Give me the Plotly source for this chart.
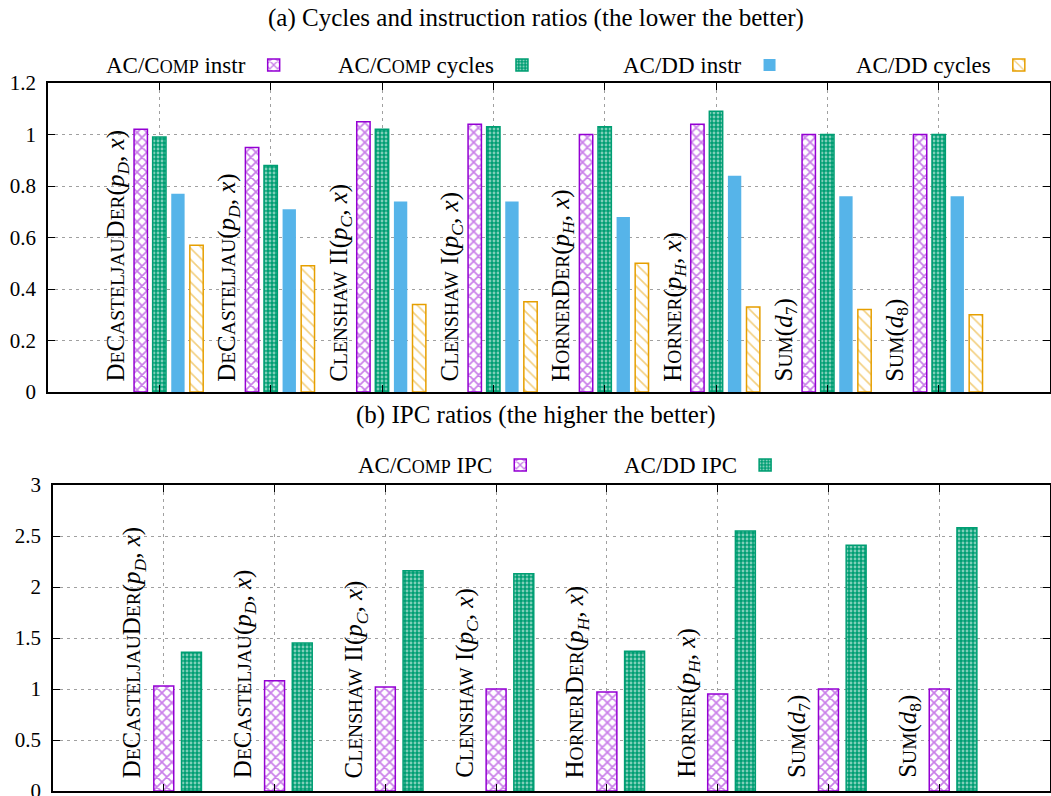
import plotly.graph_objects as go

SC = "<span style='font-size:19.5px'>"
SCL = "<span style='font-size:18px'>"
E = "</span>"

categories = [
    "D" + SC + "E" + E + "C" + SC + "ASTELJAU" + E + "D" + SC + "ER" + E + "(<i>p</i><sub><i>D</i></sub>, <i>x</i>)",
    "D" + SC + "E" + E + "C" + SC + "ASTELJAU" + E + "(<i>p</i><sub><i>D</i></sub>, <i>x</i>)",
    "C" + SC + "LENSHAW" + E + " II(<i>p</i><sub><i>C</i></sub>, <i>x</i>)",
    "C" + SC + "LENSHAW" + E + " I(<i>p</i><sub><i>C</i></sub>, <i>x</i>)",
    "H" + SC + "ORNER" + E + "D" + SC + "ER" + E + "(<i>p</i><sub><i>H</i></sub>, <i>x</i>)",
    "H" + SC + "ORNER" + E + "(<i>p</i><sub><i>H</i></sub>, <i>x</i>)",
    "S" + SC + "UM" + E + "(<i>d</i><sub>7</sub>)",
    "S" + SC + "UM" + E + "(<i>d</i><sub>8</sub>)",
]

comp_instr = [1.02, 0.95, 1.05, 1.04, 1.00, 1.04, 1.00, 1.00]
comp_cycles = [0.99, 0.88, 1.02, 1.03, 1.03, 1.09, 1.00, 1.00]
dd_instr = [0.77, 0.71, 0.74, 0.74, 0.68, 0.84, 0.76, 0.76]
dd_cycles = [0.57, 0.49, 0.34, 0.35, 0.50, 0.33, 0.32, 0.30]

comp_ipc = [1.03, 1.08, 1.02, 1.00, 0.97, 0.95, 1.00, 1.00]
dd_ipc = [1.36, 1.45, 2.16, 2.13, 1.37, 2.55, 2.41, 2.58]

names_a = ["AC/C" + SCL + "OMP" + E + " instr", "AC/C" + SCL + "OMP" + E + " cycles",
           "AC/DD instr", "AC/DD cycles"]
names_b = ["AC/C" + SCL + "OMP" + E + " IPC", "AC/DD IPC"]

PURPLE = "#9400D3"
GREEN = "#009E73"
BLUE = "#56B4E9"
ORANGE = "#E69F00"
FONT = "Liberation Serif"

pos = list(range(1, len(categories) + 1))

styles = {
    "purple": dict(color="white", line=dict(color=PURPLE, width=1.5),
                   pattern=dict(shape="x", fgcolor=PURPLE, bgcolor="white", size=7, solidity=0.42)),
    "green": dict(color=GREEN, line=dict(color=GREEN, width=1.5),
                  pattern=dict(shape=".", fgcolor="white", bgcolor=GREEN, size=4, solidity=0.4)),
    "blue": dict(color=BLUE, line=dict(color=BLUE, width=0)),
    "orange": dict(color="white", line=dict(color=ORANGE, width=1.5),
                   pattern=dict(shape="\\", fgcolor=ORANGE, bgcolor="white", size=8, solidity=0.2)),
}

# page geometry (pixels) used to place the per-series legends
L, R, T, B, W, H = 48, 1, 83, 5, 1051, 796
PW, PH = W - L - R, H - T - B


def px_x(px):
    return (px - L) / PW


def px_y(py):
    return (H - B - py) / PH


fig = go.Figure()
legend_layout = {}

wa = 0.12
series_a = [(comp_instr, "purple", -0.167), (comp_cycles, "green", 0.0),
            (dd_instr, "blue", 0.167), (dd_cycles, "orange", 0.334)]
swatch_a = [273, 521, 769, 1018]
swatch_b = [520, 765]
k = 0
for (vals, st, off), nm, sx in zip(series_a, names_a, swatch_a):
    k += 1
    lid = "legend" if k == 1 else f"legend{k}"
    fig.add_trace(go.Bar(x=pos, y=vals, width=wa, offset=off - wa / 2, name="",
                         marker=styles[st], xaxis="x", yaxis="y", legend=lid))
    legend_layout[lid] = dict(x=px_x(sx + 26), y=px_y(65), xanchor="right", yanchor="middle",
                              title=dict(text=nm, side="left", font=dict(family=FONT, size=23)),
                              bgcolor="rgba(0,0,0,0)", font=dict(family=FONT, size=23))

wb = 0.18
series_b = [(comp_ipc, "purple", 0.0), (dd_ipc, "green", 0.25)]
for (vals, st, off), nm, sx in zip(series_b, names_b, swatch_b):
    k += 1
    lid = f"legend{k}"
    fig.add_trace(go.Bar(x=pos, y=vals, width=wb, offset=off - wb / 2, name="",
                         marker=styles[st], xaxis="x2", yaxis="y2", legend=lid))
    legend_layout[lid] = dict(x=px_x(sx + 26), y=px_y(465), xanchor="right", yanchor="middle",
                              title=dict(text=nm, side="left", font=dict(family=FONT, size=23)),
                              bgcolor="rgba(0,0,0,0)", font=dict(family=FONT, size=23))

ann = []
for p, lab in zip(pos, categories):
    ann.append(dict(x=p - 0.38, y=0, xref="x", yref="y", text=lab, textangle=-90,
                    showarrow=False, xanchor="center", yanchor="bottom", yshift=8,
                    font=dict(family=FONT, size=25, color="black")))
    ann.append(dict(x=p - 0.27, y=0, xref="x2", yref="y2", text=lab, textangle=-90,
                    showarrow=False, xanchor="center", yanchor="bottom", yshift=11,
                    font=dict(family=FONT, size=25, color="black")))
ann.append(dict(x=px_x(536), y=px_y(18), xref="paper", yref="paper", showarrow=False,
                yanchor="middle",
                text="(a) Cycles and instruction ratios (the lower the better)",
                font=dict(family=FONT, size=25, color="black")))
ann.append(dict(x=px_x(536), y=px_y(415), xref="paper", yref="paper", showarrow=False,
                yanchor="middle",
                text="(b) IPC ratios (the higher the better)",
                font=dict(family=FONT, size=25, color="black")))

xcommon = dict(range=[0, len(categories) + 1], tickvals=pos, showticklabels=False,
               ticks="inside", ticklen=7, tickcolor="black", showline=True, linecolor="black",
               linewidth=1.5, mirror="ticks", showgrid=True, gridcolor="#a0a0a0",
               griddash="3px,4px", gridwidth=1, zeroline=False, automargin=False)
ycommon = dict(ticks="inside", ticklen=7, tickcolor="black", showline=True, linecolor="black",
               linewidth=1.5, mirror="ticks", showgrid=True, gridcolor="#a0a0a0",
               griddash="3px,4px", gridwidth=1, zeroline=False, ticklabelstandoff=6,
               ticklabeloverflow="allow", automargin=False,
               tickfont=dict(family=FONT, size=21, color="black"))

fig.update_layout(
    width=W, height=H,
    margin=dict(l=L, r=R, t=T, b=B),
    paper_bgcolor="white", plot_bgcolor="white",
    barmode="overlay",
    font=dict(family=FONT, size=22, color="black"),
    xaxis=dict(domain=[0, 1], anchor="y", **xcommon),
    yaxis=dict(domain=[px_y(392), 1.0], anchor="x", range=[0, 1.2], dtick=0.2, **ycommon),
    xaxis2=dict(domain=[px_x(53), 1], anchor="y2", **xcommon),
    yaxis2=dict(domain=[0, px_y(485)], anchor="x2", range=[0, 3], dtick=0.5, **ycommon),
    annotations=ann,
    showlegend=True,
    **legend_layout,
)

fig.write_html("out.html", config={"displayModeBar": False},
               post_script="document.body.style.margin='0';document.body.style.overflow='hidden';")
